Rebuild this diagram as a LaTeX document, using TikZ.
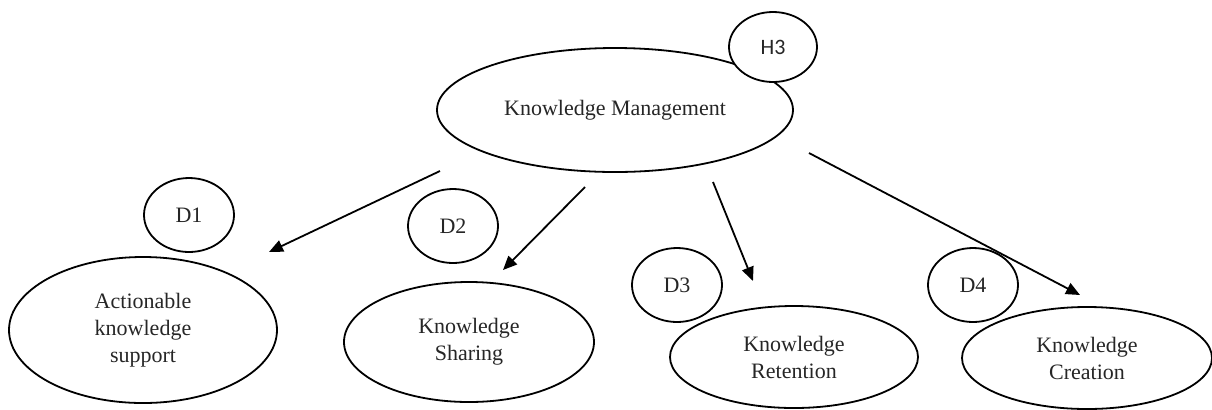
\documentclass[tikz,border=0pt]{standalone}
\usepackage{fontspec}
\setmainfont{Liberation Serif}
\newfontfamily\hypfont{Carlito}
\usetikzlibrary{shapes.geometric,arrows.meta}
\tikzset{construct/.style={draw, ellipse, line width=0.9pt, inner sep=0pt, align=center,
    font=\fontsize{11}{13.5}\selectfont, text=black!85},
  dimtag/.style={construct, fill=white, minimum width=45pt, minimum height=37pt},
  link/.style={-{Triangle[length=7pt,width=6pt]}, line width=0.9pt}}

\begin{document}
\begin{tikzpicture}[x=0.5pt, y=-0.5pt]
          \useasboundingbox (0, 0) rectangle (1212, 409);

          \node at (615, 110) [construct, minimum width=178pt, minimum height=62pt] (km) {Knowledge Management};
          \node at (773, 47) [dimtag, minimum width=44pt, minimum height=35pt,
            font=\hypfont\fontsize{11}{13}\selectfont] (h3) {H3};

          % dimensions
          \node at (143, 330) [construct, minimum width=134pt, minimum height=73pt] (support) {Actionable\\knowledge\\support};
          \node at (469, 342) [construct, minimum width=125pt, minimum height=60pt] (sharing) {Knowledge\\Sharing};
          \node at (794, 357) [construct, minimum width=124pt, minimum height=51pt] (retention) {Knowledge\\Retention};
          \node at (1087, 358) [construct, minimum width=125pt, minimum height=51pt] (creation) {Knowledge\\Creation};

          \foreach \px / \py / \num in {189/215/1, 453/226/2, 677/285/3, 973/285/4} {
            \node at (\px, \py) [dimtag] (d\num) {D\num};
          }

          % free arrow ends
          \coordinate (src1) at (440, 171);  \coordinate (dst1) at (269, 252);
          \coordinate (src2) at (585, 187);  \coordinate (dst2) at (503, 270);
          \coordinate (src3) at (713, 182);  \coordinate (dst3) at (753, 281);
          \coordinate (src4) at (809, 153);  \coordinate (dst4) at (1080, 295);

          \foreach \num in {1, 2, 3, 4} {
            \draw[link] (src\num) -- (dst\num);
          }
        \end{tikzpicture}
\end{document}
